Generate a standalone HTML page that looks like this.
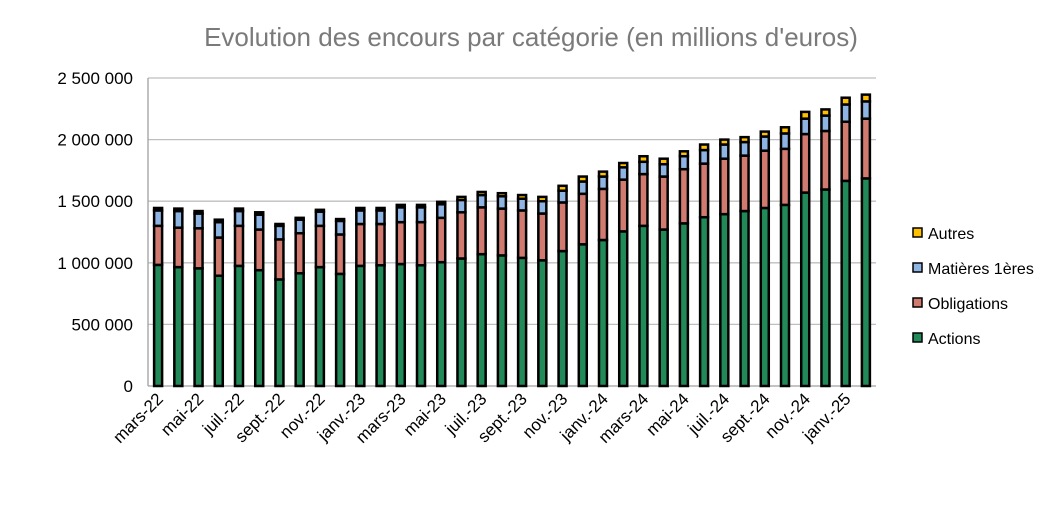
<!DOCTYPE html>
<html><head><meta charset="utf-8"><style>
body{margin:0;background:#fff;}
svg{display:block;font-family:"Liberation Sans",sans-serif;}
</style></head><body>
<svg id="chart" width="1062" height="517">
<text x="531" y="46" text-anchor="middle" font-size="26" fill="#7a7a7a">Evolution des encours par catégorie (en millions d'euros)</text>
<g id="grid"></g><g id="bars"></g><g id="xlabels"></g><g id="ylabels"></g><g id="legend"></g>
</svg>
<script>
const categories=["mars-22","avr.-22","mai-22","juin-22","juil.-22","août-22","sept.-22","oct.-22","nov.-22","déc.-22","janv.-23","févr.-23","mars-23","avr.-23","mai-23","juin-23","juil.-23","août-23","sept.-23","oct.-23","nov.-23","déc.-23","janv.-24","févr.-24","mars-24","avr.-24","mai-24","juin-24","juil.-24","août-24","sept.-24","oct.-24","nov.-24","déc.-24","janv.-25","févr.-25"];
const actions=[983,965,955,895,975,940,865,915,965,910,975,980,990,980,1005,1035,1070,1060,1040,1020,1095,1150,1185,1255,1300,1270,1320,1370,1395,1420,1445,1470,1570,1595,1665,1685];
const obligations=[317,320,325,310,325,330,325,325,335,320,340,335,340,350,360,375,380,380,385,380,395,410,415,420,420,430,440,435,450,450,465,455,475,475,480,485];
const matieres=[125,135,120,125,120,120,110,110,115,110,110,110,120,120,110,100,100,100,95,100,95,100,100,100,100,100,105,110,115,110,115,125,125,125,140,140];
const autres=[20,20,20,20,20,20,15,15,15,15,20,20,20,20,20,25,25,25,30,35,40,40,40,35,45,45,40,45,40,40,40,50,55,50,55,55];
const yTicks=[0,500000,1000000,1500000,2000000,2500000];
const yTickLabels=["0","500 000","1 000 000","1 500 000","2 000 000","2 500 000"];
const seriesNames=["Autres","Matières 1ères","Obligations","Actions"];
const seriesColors=["#FFC000","#8EB4E3","#D07A70","#218A58"];

const NS="http://www.w3.org/2000/svg";
const L=148,R=876,T=78,B=386,MAX=2500000;
const y=v=>B-(v/MAX)*(B-T);
const band=(R-L)/categories.length;
const xc=i=>L+(i+0.5)*band;
function mk(tag,attrs,parent){const e=document.createElementNS(NS,tag);for(const k in attrs)e.setAttribute(k,attrs[k]);parent.appendChild(e);return e;}
const grid=document.getElementById('grid'),ylab=document.getElementById('ylabels');
yTicks.forEach((t,i)=>{
  if(t>0){const g=mk('line',{x1:L,x2:R,y1:y(t),y2:y(t),stroke:'#BFBFBF','stroke-width':1.3},grid);
  
  }
  const tx=mk('text',{x:133,y:y(t)+6,'text-anchor':'end','font-size':17,fill:'#000'},ylab);
  tx.textContent=yTickLabels[i];
  
  
});
const ax=mk('line',{x1:L,x2:L,y1:T,y2:B,stroke:'#A0A0A0','stroke-width':1.3},grid);


const xa=mk('line',{x1:L,x2:R,y1:B,y2:B,stroke:'#A0A0A0','stroke-width':1.3},grid);


const bars=document.getElementById('bars');
const series=[actions,obligations,matieres,autres];
const cols=["#218A58","#D07A70","#8EB4E3","#FFC000"];
const names=["actions","obligations","matieres","autres"];
const bw=8;
categories.forEach((c,i)=>{
  let base=0;
  series.forEach((s,k)=>{
    const v=s[i]*1000;
    const r=mk('rect',{x:xc(i)-bw/2,y:y(base+v),width:bw,height:y(base)-y(base+v),fill:cols[k],stroke:'#000','stroke-width':2.5},bars);
    
    
    base+=v;
  });
});
const xl=document.getElementById('xlabels');
categories.forEach((c,i)=>{
  if(i%2) return;
  const px=xc(i)+6,py=400;
  const t=mk('text',{x:px,y:py,'text-anchor':'end','font-size':17,fill:'#000',transform:`rotate(-45 ${px} ${py})`},xl);
  t.textContent=c;
  
  
});
const lg=document.getElementById('legend');
seriesNames.forEach((n,i)=>{
  const yy=233+i*35;
  const r=mk('rect',{x:913,y:yy-5,width:9,height:9,fill:seriesColors[i],stroke:'#000','stroke-width':1.5},lg);
  
  
  const t=mk('text',{x:928,y:yy+6,'font-size':16,fill:'#000'},lg);
  t.textContent=n;
  
  
});
</script>
</body></html>
